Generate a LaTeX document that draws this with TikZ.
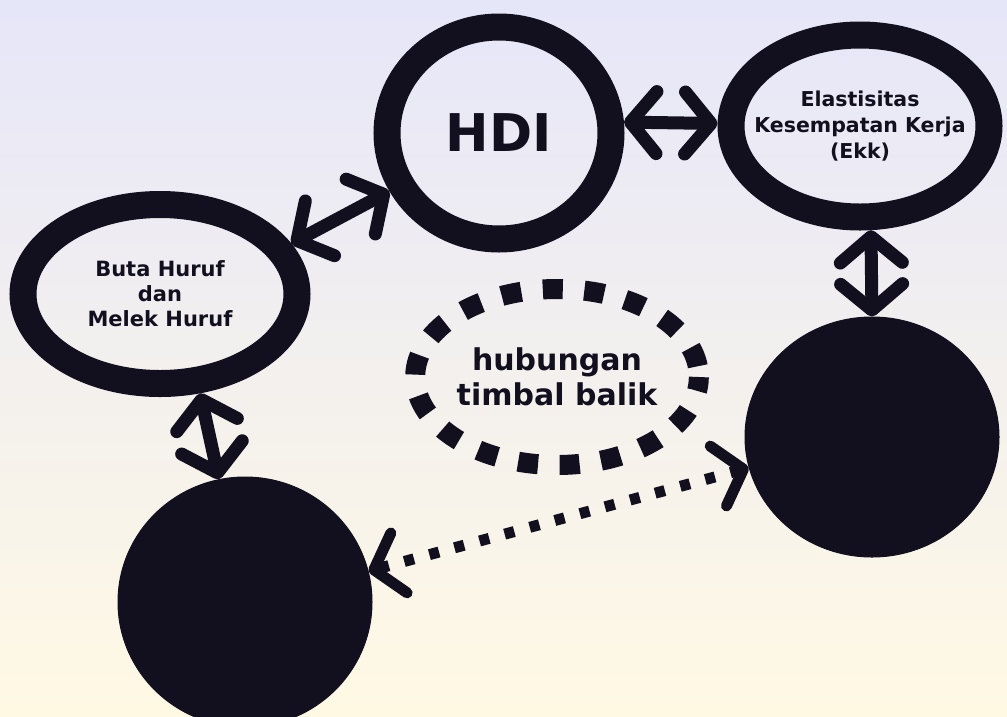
\documentclass[tikz,border=0pt]{standalone}
\usepackage{fontspec}
\setmainfont{DejaVu Sans}
\usetikzlibrary{shapes.geometric,arrows.meta}
\definecolor{ink}{RGB}{18,16,30}
\definecolor{lav}{RGB}{230,230,249}
\definecolor{lavm}{RGB}{226,226,248}
\definecolor{crm}{RGB}{255,249,228}
\begin{document}
\begin{tikzpicture}[x=1pt,y=-1pt,
  ring/.style={ellipse, draw=ink, line width=27pt, inner sep=0pt, align=center, text=ink, font=\bfseries},
  blob/.style={ellipse, fill=ink, draw=ink, line width=1pt, inner sep=0pt},
  hubst/.style={ellipse, draw=ink, line width=20pt, dash pattern=on 20pt off 21.6pt, dash phase=30.8pt, inner sep=0pt, align=center, text=ink, font=\bfseries\fontsize{30}{35}\selectfont},
  tipb/.tip={Straight Barb[length=26pt,width=62pt,round]},
  conn/.style={draw=ink, line width=13pt, line cap=round, tipb-tipb},
  dotconn/.style={draw=ink, line width=11pt, dash pattern=on 10pt off 16pt, tipb-tipb}]
\useasboundingbox (0,0) rectangle (1007,716);
\clip (0,0) rectangle (1007,716);
\shade[top color=lav, middle color=lavm, bottom color=crm] (0,0) rectangle (1007,716);

\node[ring, minimum width=224pt, minimum height=212pt, font=\bfseries\fontsize{52}{60}\selectfont] (hdi) at (499,133) {HDI};
\node[ring, inner xsep=-45pt, minimum width=258pt, minimum height=182pt, font=\bfseries\fontsize{20.5}{26}\selectfont] (elas) at (860,126) {Elastisitas\\Kesempatan Kerja\\(Ekk)};
\node[ring, inner xsep=-20pt, minimum width=274pt, minimum height=179pt, font=\bfseries\fontsize{21}{25}\selectfont] (buta) at (160,294) {Buta Huruf\\dan\\Melek Huruf};
\node[blob, minimum width=254pt, minimum height=240pt] (rb) at (872,437) {};
\node[blob, minimum width=254pt, minimum height=250pt] (lb) at (245,602) {};
\node[hubst, minimum width=270pt, minimum height=176pt] (hub) at (557,377) {hubungan\\timbal balik};

\draw[conn] (hdi.5) -- (elas.179);
\draw[conn] (buta.21) -- (hdi.208);
\draw[conn] (elas.276) -- (rb.90);
\draw[conn] (buta.292) -- (lb.102);
\draw[dotconn] (lb.14) -- (rb.194);
\end{tikzpicture}
\end{document}
